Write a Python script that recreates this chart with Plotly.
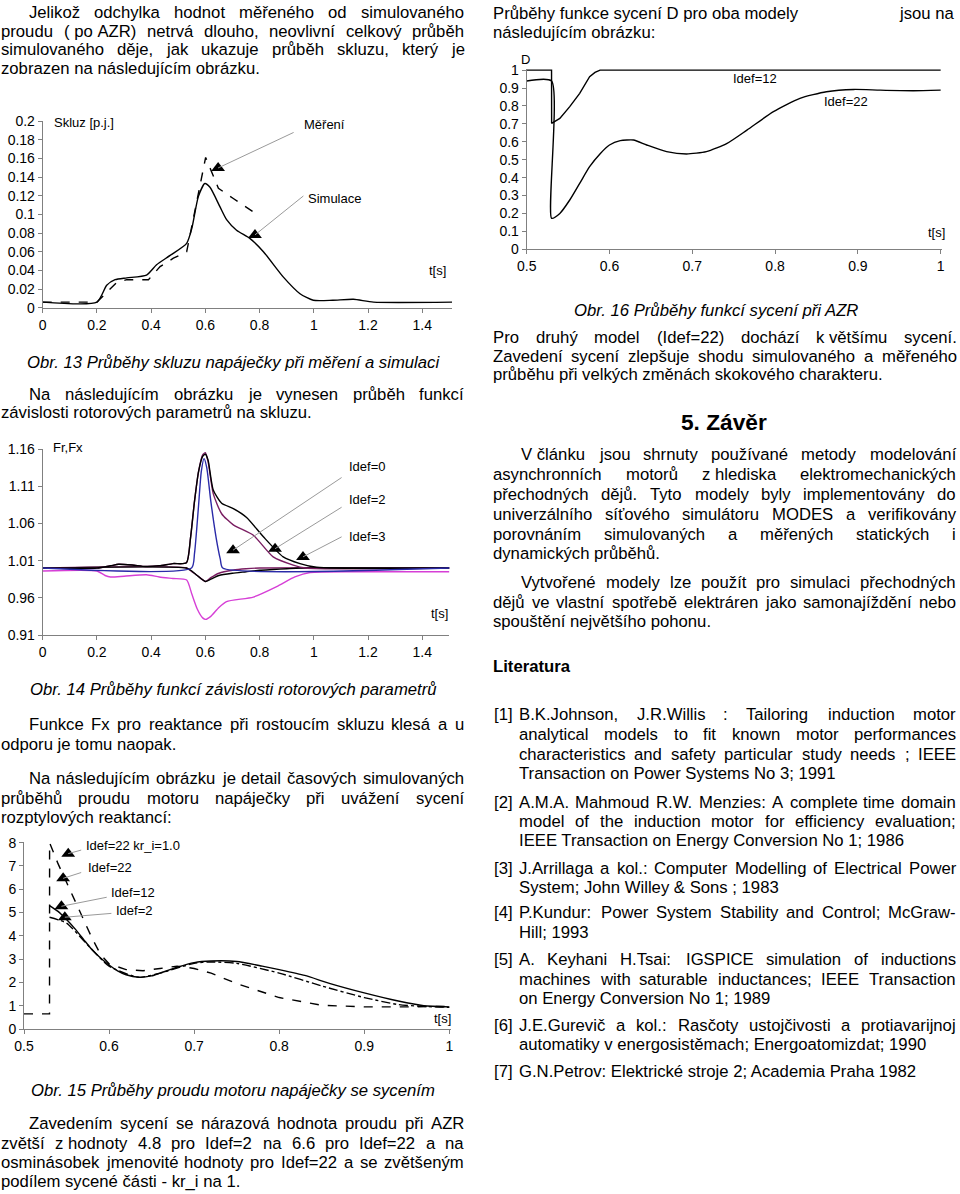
import unicodedata
import plotly.graph_objects as go

W, H = 960, 1194
FONT = "Liberation Sans, Arial, sans-serif"
BODY = 16.7
CHART_FONT = 13
TICK_FONT = 14

# ---------------- data: Obr. 13 (slip) ----------------
sim_x = [0, 0.2, 0.236, 0.267, 0.31, 0.383, 0.42, 0.47, 0.531, 0.55, 0.574, 0.598, 0.617, 0.654,
         0.679, 0.715, 0.765, 0.814, 0.887, 0.949, 0.998, 1.07, 1.146, 1.22, 1.51]
sim_y = [0.006, 0.006, 0.024, 0.030, 0.032, 0.035, 0.046, 0.056, 0.069, 0.085, 0.119, 0.133, 0.129, 0.108,
         0.094, 0.083, 0.074, 0.060, 0.033, 0.015, 0.008, 0.008, 0.009, 0.006, 0.006]
mer_x = [0, 0.2, 0.273, 0.31, 0.39, 0.433, 0.482, 0.531, 0.601, 0.623, 0.648, 0.703, 0.795]
mer_y = [0.006, 0.006, 0.027, 0.030, 0.030, 0.044, 0.053, 0.060, 0.161, 0.146, 0.128, 0.117, 0.099]
c1_xticks = [0, 0.2, 0.4, 0.6, 0.8, 1, 1.2, 1.4]
c1_xlabels = ["0", "0.2", "0.4", "0.6", "0.8", "1", "1.2", "1.4"]
c1_yticks = [0, 0.02, 0.04, 0.06, 0.08, 0.1, 0.12, 0.14, 0.16, 0.18, 0.2]
c1_ylabels = ["0", "0.02", "0.04", "0.06", "0.08", "0.1", "0.12", "0.14", "0.16", "0.18", "0.2"]

# ---------------- data: Obr. 14 (Fr, Fx) ----------------
fr0_x = [0, 0.2, 0.25, 0.28, 0.33, 0.38, 0.43, 0.48, 0.53, 0.545, 0.56, 0.575, 0.59, 0.6, 0.61, 0.629,
         0.66, 0.703, 0.752, 0.814, 0.887, 0.949, 1.01, 1.5]
fr0_y = [1.0, 1.0, 1.003, 1.005, 1.004, 1.002, 1.003, 1.006, 1.007, 1.04, 1.09, 1.13, 1.15, 1.153, 1.145,
         1.105, 1.087, 1.08, 1.068, 1.042, 1.015, 1.006, 1.001, 1.0]
fr2_x = [0, 0.2, 0.25, 0.28, 0.33, 0.38, 0.43, 0.48, 0.53, 0.545, 0.56, 0.575, 0.59, 0.6, 0.61, 0.629,
         0.66, 0.703, 0.777, 0.85, 0.924, 0.97, 1.5]
fr2_y = [1.0, 1.0, 1.003, 1.005, 1.004, 1.002, 1.003, 1.006, 1.007, 1.04, 1.09, 1.13, 1.152, 1.155, 1.143,
         1.1, 1.073, 1.058, 1.044, 1.015, 1.004, 1.0, 1.0]
fr3_x = [0, 0.549, 0.56, 0.574, 0.585, 0.595, 0.605, 0.62, 0.64, 0.655, 0.664, 1.5]
fr3_y = [1.0, 1.0, 1.02, 1.08, 1.13, 1.147, 1.135, 1.09, 1.04, 1.012, 1.0, 1.0]
fx0_x = [0, 0.53, 0.55, 0.57, 0.6, 0.62, 0.65, 0.7, 0.75, 0.8, 0.85, 0.9, 0.95, 1.5]
fx0_y = [1.0, 1.0, 0.996, 0.99, 0.982, 0.985, 0.99, 0.993, 0.995, 0.997, 0.998, 0.999, 1.0, 1.0]
fx2_x = [0, 0.53, 0.55, 0.57, 0.6, 0.62, 0.65, 0.7, 0.75, 0.8, 1.5]
fx2_y = [1.0, 1.0, 0.995, 0.99, 0.982, 0.987, 0.993, 0.997, 0.999, 1.0, 1.0]
fx3_x = [0, 0.2, 0.23, 0.25, 0.3, 0.383, 0.43, 0.48, 0.531, 0.55, 0.57, 0.59, 0.601, 0.62, 0.65, 0.678,
         0.777, 0.863, 0.93, 0.986, 1.2, 1.5]
fx3_y = [0.996, 0.996, 0.99, 0.988, 0.989, 0.991, 0.988, 0.986, 0.984, 0.965, 0.945, 0.933, 0.931, 0.935,
         0.947, 0.955, 0.961, 0.975, 0.988, 0.994, 0.995, 0.995]
c2_yticks = [0.91, 0.96, 1.01, 1.06, 1.11, 1.16]
c2_ylabels = ["0.91", "0.96", "1.01", "1.06", "1.11", "1.16"]

# ---------------- data: Obr. 15 (current) ----------------
kr_x = [0.5, 0.53, 0.5301, 0.54, 0.55, 0.56, 0.57, 0.58, 0.59, 0.6, 0.62, 0.64, 0.66, 0.68, 0.7, 0.72,
        0.75, 0.8, 0.85, 0.9, 0.95, 1.0]
kr_y = [0.65, 0.65, 8.0, 7.1, 6.3, 5.5, 4.7, 3.9, 3.2, 2.8, 2.55, 2.5, 2.6, 2.7, 2.6, 2.4, 1.95, 1.35,
        1.02, 0.95, 0.95, 0.97]
i12_x = [0.53, 0.54, 0.55, 0.56, 0.57, 0.58, 0.59, 0.6, 0.61, 0.62, 0.635, 0.65, 0.66, 0.68, 0.7, 0.72,
         0.75, 0.78, 0.8, 0.83, 0.86, 0.9, 0.94, 0.97, 1.0]
i12_y = [5.3, 5.05, 4.7, 4.3, 3.85, 3.4, 3.05, 2.75, 2.5, 2.33, 2.22, 2.28, 2.4, 2.65, 2.85, 2.92, 2.9,
         2.7, 2.55, 2.3, 1.95, 1.55, 1.2, 1.0, 0.95]
i2_x = [0.53, 0.55, 0.57, 0.6, 0.635, 0.66, 0.7, 0.72, 0.75, 0.8, 0.85, 0.9, 0.94, 0.97, 1.0]
i2_y = [4.8, 4.55, 3.8, 2.7, 2.22, 2.4, 2.82, 2.88, 2.82, 2.4, 1.85, 1.35, 1.05, 0.97, 0.93]
c3_xticks = [0.5, 0.6, 0.7, 0.8, 0.9, 1.0]
c3_xlabels = ["0.5", "0.6", "0.7", "0.8", "0.9", "1"]
c3_yticks = [0, 1, 2, 3, 4, 5, 6, 7, 8]
c3_ylabels = ["0", "1", "2", "3", "4", "5", "6", "7", "8"]

# ---------------- data: Obr. 16 (saturation D) ----------------
d12_x = [0.5, 0.53, 0.5301, 0.54, 0.552, 0.564, 0.576, 0.5825, 0.5886, 1.0]
d12_y = [1.0, 1.0, 0.703, 0.73, 0.796, 0.87, 0.963, 0.987, 1.0, 1.0]
d22_x = [0.5, 0.53, 0.5301, 0.54, 0.552, 0.564, 0.576, 0.589, 0.6, 0.613, 0.629, 0.645, 0.669, 0.693,
         0.717, 0.742, 0.766, 0.798, 0.83, 0.862, 0.895, 0.927, 0.967, 1.0]
d22_y = [0.939, 0.939, 0.173, 0.2, 0.275, 0.368, 0.461, 0.535, 0.582, 0.606, 0.61, 0.582, 0.545, 0.532,
         0.545, 0.591, 0.665, 0.768, 0.842, 0.879, 0.892, 0.888, 0.885, 0.888]
c4_yticks = [0, 0.1, 0.2, 0.3, 0.4, 0.5, 0.6, 0.7, 0.8, 0.9, 1]
c4_ylabels = ["0", "0.1", "0.2", "0.3", "0.4", "0.5", "0.6", "0.7", "0.8", "0.9", "1"]

# --------------- helpers ---------------
_AW = {' ': 278, '(': 333, ')': 333, ',': 278, '-': 333, '.': 278, '/': 278, ':': 278, ';': 278,
       '=': 584, '[': 278, ']': 278, '_': 556, '&': 667, '\u00a0': 278, 'í': 278, 'ť': 367}
for c in "0123456789":
    _AW[c] = 556
_AW.update(dict(zip("ABCDEFGHIJKLMNOPQRSTUVWXYZ",
                    [667, 667, 722, 722, 667, 611, 778, 722, 278, 500, 667, 556, 833, 722, 778, 667, 778,
                     722, 667, 611, 722, 667, 944, 667, 667, 611])))
_AW.update(dict(zip("abcdefghijklmnopqrstuvwxyz",
                    [556, 556, 500, 556, 556, 278, 556, 556, 222, 222, 500, 222, 833, 556, 556, 556, 556,
                     333, 500, 278, 556, 500, 722, 500, 500, 500])))


def tw(s, size=BODY):
    t = 0
    for ch in s:
        if ch in _AW:
            t += _AW[ch]
        else:
            t += _AW.get(unicodedata.normalize('NFD', ch)[0], 556)
    return t * size / 1000.0


def esc(s):
    return s.replace('&', '&amp;')


annotations = []


def ann(text, x, y, xanchor='left', size=BODY, bold=False, italic=False):
    t = esc(text)
    if bold:
        t = '<b>' + t + '</b>'
    if italic:
        t = '<i>' + t + '</i>'
    annotations.append(dict(text=t, x=x / W, y=1 - y / H, xref='paper', yref='paper',
                            xanchor=xanchor, yanchor='middle', showarrow=False, borderpad=0,
                            font=dict(family=FONT, size=size, color='black')))


def line(text, y, left, right, justify, indent=0):
    x0 = left + indent
    words = [w for w in text.split(' ') if w]
    if not justify or len(words) == 1:
        ann(text, x0, y)
        return
    widths = [tw(w) for w in words]
    gap = (right - x0 - sum(widths)) / (len(words) - 1)
    x = x0
    for w, wd in zip(words, widths):
        ann(w, x, y)
        x += wd + gap


NB = '\u00a0'
LL, LR = 0, 463
RL, RR = 492, 955
IND = 28

# left column text
line("Jelikož odchylka hodnot měřeného od simulovaného", 12, LL, LR, True, IND)
line("proudu (" + NB + "po" + NB + "AZR) netrvá dlouho, neovlivní celkový průběh", 31, LL, LR, True)
line("simulovaného děje, jak ukazuje průběh skluzu, který je", 50, LL, LR, True)
line("zobrazen na následujícím obrázku.", 69, LL, LR, False)
ann("Obr. 13 Průběhy skluzu napáječky při měření a simulaci", 233, 362, 'center', italic=True)
line("Na následujícím obrázku je vynesen průběh funkcí", 394, LL, LR, True, IND)
line("závislosti rotorových parametrů na skluzu.", 413, LL, LR, False)
ann("Obr. 14 Průběhy funkcí závislosti rotorových parametrů", 233, 690, 'center', italic=True)
line("Funkce Fx pro reaktance při rostoucím skluzu klesá a u", 725, LL, LR, True, IND)
line("odporu je tomu naopak.", 745, LL, LR, False)
line("Na následujícím obrázku je detail časových simulovaných", 778, LL, LR, True, IND)
line("průběhů proudu motoru napáječky při uvážení sycení", 798, LL, LR, True)
line("rozptylových reaktancí:", 817, LL, LR, False)
ann("Obr. 15 Průběhy proudu motoru napáječky se sycením", 233, 1090, 'center', italic=True)
line("Zavedením sycení se nárazová hodnota proudu při AZR", 1123, LL, LR, True, IND)
line("zvětší z" + NB + "hodnoty 4.8 pro Idef=2 na 6.6 pro Idef=22 a na", 1143, LL, LR, True)
line("osminásobek jmenovité hodnoty pro Idef=22 a se zvětšeným", 1162, LL, LR, True)
line("podílem sycené části - kr_i na 1.", 1181, LL, LR, False)

# right column text
ann("Průběhy funkce sycení D pro oba modely", RL, 14)
ann("jsou na", RR + 1, 14, 'right')
line("následujícím obrázku:", 33, RL, RR, False)
ann("Obr. 16 Průběhy funkcí sycení při AZR", 716, 310, 'center', italic=True)
line("Pro druhý model (Idef=22) dochází k" + NB + "většímu sycení.", 337, RL, RR + 1, True)
line("Zavedení sycení zlepšuje shodu simulovaného a měřeného", 356, RL, RR + 1, True)
line("průběhu při velkých změnách skokového charakteru.", 375, RL, RR, False)
ann("5. Závěr", 724, 422, 'center', size=22.7, bold=True)
line("V" + NB + "článku jsou shrnuty používané metody modelování", 455, RL, RR, True, IND)
line("asynchronních motorů z" + NB + "hlediska elektromechanických", 475, RL, RR, True)
line("přechodných dějů. Tyto modely byly implementovány do", 495, RL, RR, True)
line("univerzálního síťového simulátoru MODES a verifikovány", 514, RL, RR, True)
line("porovnáním simulovaných a měřených statických i", 534, RL, RR, True)
line("dynamických průběhů.", 553, RL, RR, False)
line("Vytvořené modely lze použít pro simulaci přechodných", 582, RL, RR, True, IND)
line("dějů ve vlastní spotřebě elektráren jako samonajíždění nebo", 602, RL, RR, True)
line("spouštění největšího pohonu.", 621, RL, RR, False)
ann("Literatura", RL, 666, bold=True)

refs = [
    ("[1]", [("B.K.Johnson, J.R.Willis : Tailoring induction motor", 715, True),
             ("analytical models to fit known motor performances", 735, True),
             ("characteristics and safety particular study needs ; IEEE", 754, True),
             ("Transaction on Power Systems No 3; 1991", 773, False)]),
    ("[2]", [("A.M.A. Mahmoud R.W. Menzies: A complete time domain", 802, True),
             ("model of the induction motor for efficiency evaluation;", 821, True),
             ("IEEE Transaction on Energy Conversion No 1; 1986", 840, False)]),
    ("[3]", [("J.Arrillaga a kol.: Computer Modelling of Electrical Power", 868, True),
             ("System; John Willey & Sons ; 1983", 887, False)]),
    ("[4]", [("P.Kundur: Power System Stability and Control; McGraw-", 912.5, True),
             ("Hill; 1993", 932.5, False)]),
    ("[5]", [("A. Keyhani H.Tsai: IGSPICE simulation of inductions", 959, True),
             ("machines with saturable inductances; IEEE Transaction", 979, True),
             ("on Energy Conversion No 1; 1989", 998, False)]),
    ("[6]", [("J.E.Gurevič a kol.: Rasčoty ustojčivosti a protiavarijnoj", 1025, True),
             ("automatiky v energosistěmach; Energoatomizdat; 1990", 1044, False)]),
    ("[7]", [("G.N.Petrov: Elektrické stroje 2; Academia Praha 1982", 1071, False)]),
]
for lab, lines_ in refs:
    ann(lab, 493, lines_[0][1])
    for txt, yy, j in lines_:
        line(txt, yy, 518, RR, j)

# --------------- chart labels (pixel placed) ---------------
chart_labels = [
    ("Skluz [p.j.]", 53, 122), ("Měření", 303, 125), ("Simulace", 307, 199), ("t[s]", 428, 270),
    ("Fr,Fx", 52, 448), ("Idef=0", 348, 466), ("Idef=2", 348, 499), ("Idef=3", 348, 536), ("t[s]", 430, 613),
    ("Idef=22 kr_i=1.0", 85, 845), ("Idef=22", 87, 867), ("Idef=12", 110, 892), ("Idef=2", 115, 910),
    ("t[s]", 433, 1018),
    ("D", 520, 60), ("Idef=12", 732, 79), ("Idef=22", 823, 101), ("t[s]", 927, 232),
]
for t, x, y in chart_labels:
    ann(t, x, y, size=CHART_FONT)

# pointer arrows (tip, tail) in data coordinates per chart
pointers = {
    1: [((0.647, 0.1497), (0.931, 0.1885)), ((0.783, 0.078), (0.967, 0.121))],
    2: [((0.702, 1.024), (1.108, 1.123)), ((0.857, 1.026), (1.108, 1.083)), ((0.96, 1.015), (1.108, 1.043))],
    3: [((0.552, 7.53), (0.569, 7.7)), ((0.546, 6.47), (0.569, 6.74)), ((0.544, 5.27), (0.599, 5.67)),
        ((0.548, 4.8), (0.6045, 4.97))],
}

fig = go.Figure()


def ax_name(i, kind):
    return kind + ('' if i == 1 else str(i))


def add_series(i, x, y, color='black', dash='solid', width=1.4, shape='spline'):
    fig.add_trace(go.Scatter(x=x, y=y, mode='lines', xaxis=ax_name(i, 'x'), yaxis=ax_name(i, 'y'),
                             line=dict(color=color, dash=dash, width=width, shape=shape,
                                       smoothing=0.6 if shape == 'spline' else None),
                             hoverinfo='skip'))


add_series(1, mer_x, mer_y, dash='dash', shape='linear')
add_series(1, sim_x, sim_y)

PURPLE = '#7a1e62'
BLUE = '#2a2aa8'
MAGENTA = '#d63fd6'
add_series(2, fx3_x, fx3_y, MAGENTA)
add_series(2, fx2_x, fx2_y, PURPLE)
add_series(2, fx0_x, fx0_y, 'black')
add_series(2, fr2_x, fr2_y, PURPLE)
add_series(2, fr0_x, fr0_y, 'black')
add_series(2, fr3_x, fr3_y, BLUE)

add_series(3, kr_x, kr_y, dash='dash', shape='linear')
add_series(3, i2_x, i2_y, dash='dashdot')
add_series(3, i12_x, i12_y)

add_series(4, d12_x, d12_y, shape='linear')
add_series(4, d22_x, d22_y)

for i, plist in pointers.items():
    for tip, tail in plist:
        annotations.append(dict(x=tip[0], y=tip[1], ax=tail[0], ay=tail[1],
                                xref=ax_name(i, 'x'), yref=ax_name(i, 'y'),
                                axref=ax_name(i, 'x'), ayref=ax_name(i, 'y'),
                                showarrow=True, arrowhead=0, arrowwidth=1, arrowcolor='#9a9a9a', text=''))
    fig.add_trace(go.Scatter(x=[p[0][0] for p in plist], y=[p[0][1] for p in plist], mode='markers',
                             xaxis=ax_name(i, 'x'), yaxis=ax_name(i, 'y'), cliponaxis=False,
                             marker=dict(symbol='triangle-up', size=12, color='black'), hoverinfo='skip'))

axis_style = dict(showline=True, linecolor='#808080', linewidth=1, ticks='outside', ticklen=4,
                  tickcolor='#808080', showgrid=False, zeroline=False, fixedrange=True,
                  tickfont=dict(family=FONT, size=TICK_FONT, color='black'))


def dom_x(a, b):
    return [a / W, b / W]


def dom_y(top, bottom):
    return [1 - bottom / H, 1 - top / H]


fig.update_layout(
    width=W, height=H, margin=dict(l=0, r=0, t=0, b=0, autoexpand=False),
    paper_bgcolor='white', plot_bgcolor='white', showlegend=False,
    font=dict(family=FONT, color='black'),
    xaxis=dict(domain=dom_x(42.7, 452.1), range=[0, 1.51], anchor='y', tickvals=c1_xticks,
               ticktext=c1_xlabels, **axis_style),
    yaxis=dict(domain=dom_y(121, 307.7), range=[0, 0.2], anchor='x', tickvals=c1_yticks,
               ticktext=c1_ylabels, **axis_style),
    xaxis2=dict(domain=dom_x(42.7, 449.4), range=[0, 1.5], anchor='y2', tickvals=c1_xticks,
                ticktext=c1_xlabels, **axis_style),
    yaxis2=dict(domain=dom_y(449, 635), range=[0.91, 1.16], anchor='x2', tickvals=c2_yticks,
                ticktext=c2_ylabels, **axis_style),
    xaxis3=dict(domain=dom_x(24, 451), range=[0.5, 1.002], anchor='y3', tickvals=c3_xticks,
                ticktext=c3_xlabels, **axis_style),
    yaxis3=dict(domain=dom_y(842, 1029), range=[0, 8.03], anchor='x3', tickvals=c3_yticks,
                ticktext=c3_ylabels, **axis_style),
    xaxis4=dict(domain=dom_x(526.7, 941.5), range=[0.5, 1.001], anchor='y4', tickvals=c3_xticks,
                ticktext=c3_xlabels, **axis_style),
    yaxis4=dict(domain=dom_y(69, 249.3), range=[0, 1.006], anchor='x4', tickvals=c4_yticks,
                ticktext=c4_ylabels, **axis_style),
    annotations=annotations,
)

fig.write_html("out.html", config={'displayModeBar': False, 'staticPlot': True},
               post_script="document.body.style.margin='0px';document.body.style.padding='0px';")
